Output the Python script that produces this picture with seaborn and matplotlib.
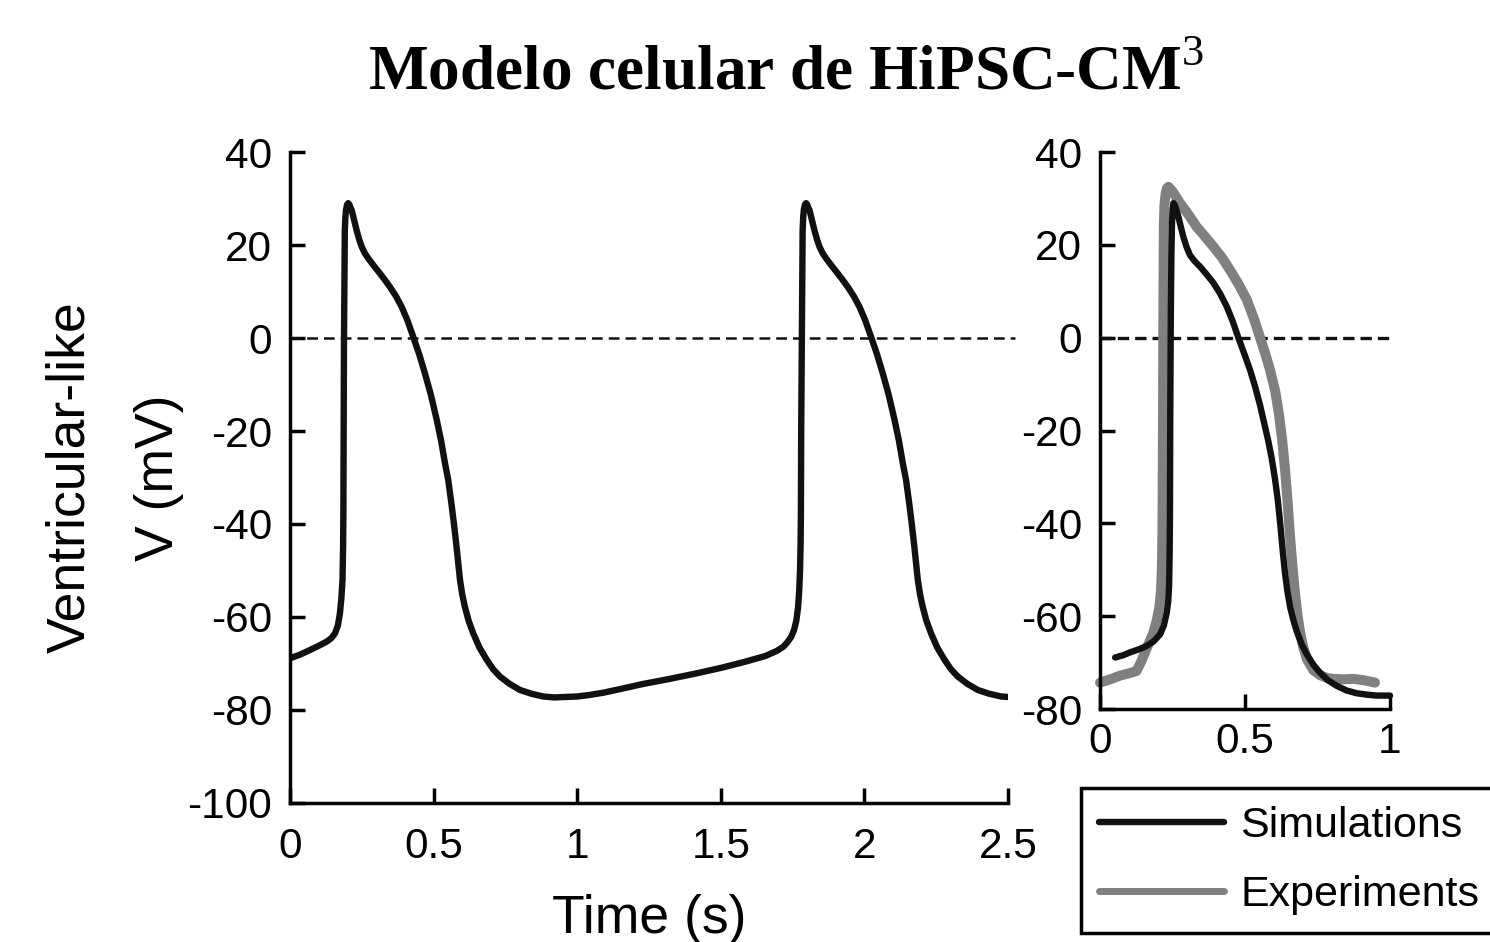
import matplotlib
matplotlib.use("Agg")
import matplotlib.pyplot as plt
import pandas as pd
import seaborn as sns
from matplotlib.lines import Line2D

# ---------------- data ----------------
left_time = [0.000, 0.035, 0.070, 0.100, 0.128, 0.145, 0.157, 0.167, 0.174, 0.179,
             0.183, 0.185, 0.186, 0.187, 0.188, 0.1895, 0.191, 0.193, 0.195, 0.199,
             0.203, 0.207, 0.211, 0.215, 0.223, 0.232, 0.241, 0.250, 0.261, 0.273,
             0.290, 0.308, 0.328, 0.348, 0.369, 0.389, 0.409, 0.429, 0.450, 0.470,
             0.491, 0.511, 0.526, 0.540, 0.551, 0.562, 0.571, 0.580, 0.586, 0.592,
             0.600, 0.609, 0.622, 0.638, 0.660, 0.685, 0.707, 0.731, 0.765, 0.801,
             0.840, 0.882, 0.920, 0.963, 1.000, 1.040, 1.090, 1.150, 1.230, 1.315,
             1.410, 1.504, 1.580, 1.655, 1.695, 1.718, 1.731, 1.745, 1.755, 1.763,
             1.769, 1.773, 1.776, 1.778, 1.779, 1.780, 1.782, 1.7835, 1.785, 1.787,
             1.789, 1.793, 1.797, 1.801, 1.805, 1.809, 1.817, 1.826, 1.835, 1.844,
             1.855, 1.867, 1.884, 1.902, 1.922, 1.942, 1.963, 1.983, 2.003, 2.023,
             2.044, 2.064, 2.085, 2.105, 2.120, 2.134, 2.145, 2.156, 2.165, 2.174,
             2.180, 2.186, 2.194, 2.203, 2.216, 2.232, 2.254, 2.279, 2.301, 2.325,
             2.359, 2.395, 2.434, 2.476, 2.500]
left_voltage = [-68.9, -68.1, -67.1, -66.2, -65.3, -64.5, -63.5, -61.8, -59.2, -56.0,
                -52.0, -45.0, -37.7, -20.0, -1.9, 12.0, 23.2, 26.0, 27.5, 28.7,
                29.0, 28.7, 28.0, 27.5, 25.5, 23.2, 21.2, 19.6, 18.2, 17.1,
                15.7, 14.3, 12.7, 11.0, 9.0, 6.7, 3.8, 0.3, -3.5, -7.6,
                -12.3, -17.6, -22.0, -27.0, -30.5, -35.5, -40.0, -44.9, -48.5, -52.0,
                -55.2, -57.8, -60.8, -63.5, -66.6, -69.2, -71.2, -72.8, -74.4, -75.7,
                -76.5, -77.1, -77.3, -77.2, -77.1, -76.8, -76.3, -75.5, -74.4, -73.4,
                -72.2, -70.9, -69.7, -68.4, -67.3, -66.4, -65.5, -64.3, -62.8, -60.8,
                -58.0, -54.5, -50.0, -44.0, -37.7, -20.0, -1.9, 12.0, 23.2, 26.0,
                27.5, 28.7, 29.0, 28.7, 28.0, 27.5, 25.5, 23.2, 21.2, 19.6,
                18.2, 17.1, 15.7, 14.3, 12.7, 11.0, 9.0, 6.7, 3.8, 0.3,
                -3.5, -7.6, -12.3, -17.6, -22.0, -27.0, -30.5, -35.5, -40.0, -44.9,
                -48.5, -52.0, -55.2, -57.8, -60.8, -63.5, -66.6, -69.2, -71.2, -72.8,
                -74.4, -75.7, -76.5, -77.1, -77.2]

right_sim_time = [0.052, 0.080, 0.103, 0.135, 0.161, 0.185, 0.207, 0.220, 0.230, 0.235,
                  0.238, 0.240, 0.241, 0.242, 0.244, 0.246, 0.248, 0.250, 0.253, 0.257,
                  0.262, 0.270, 0.278, 0.287, 0.298, 0.310, 0.326, 0.345, 0.368, 0.391,
                  0.414, 0.437, 0.457, 0.477, 0.497, 0.517, 0.535, 0.552, 0.566, 0.580,
                  0.592, 0.603, 0.613, 0.622, 0.630, 0.638, 0.646, 0.656, 0.667, 0.678,
                  0.695, 0.713, 0.735, 0.759, 0.786, 0.816, 0.850, 0.885, 0.920, 0.954,
                  1.000]
right_sim_voltage = [-68.9, -68.4, -67.8, -67.1, -66.4, -65.4, -63.9, -62.0, -59.2, -56.8,
                     -53.5, -46.0, -39.1, -17.6, 5.0, 18.0, 24.5, 27.5, 29.0, 28.6,
                     27.8, 26.1, 24.0, 21.8, 19.6, 17.8, 16.5, 15.3, 13.6, 11.8,
                     9.5, 6.7, 3.6, 0.0, -3.4, -6.9, -10.6, -14.6, -18.4, -22.2,
                     -26.0, -30.3, -35.0, -40.5, -46.0, -50.8, -54.6, -58.2, -60.9, -63.2,
                     -66.0, -68.2, -70.4, -72.2, -73.8, -75.0, -76.0, -76.6, -76.9, -77.1,
                     -77.1]

right_exp_time = [0.000, 0.035, 0.069, 0.100, 0.126, 0.140, 0.155, 0.170, 0.184, 0.196,
                  0.205, 0.210, 0.213, 0.215, 0.216, 0.217, 0.218, 0.219, 0.220, 0.222,
                  0.226, 0.231, 0.236, 0.250, 0.276, 0.305, 0.333, 0.362, 0.391, 0.420,
                  0.448, 0.478, 0.506, 0.530, 0.552, 0.570, 0.586, 0.604, 0.617, 0.628,
                  0.638, 0.647, 0.655, 0.664, 0.672, 0.681, 0.690, 0.700, 0.713, 0.735,
                  0.759, 0.782, 0.805, 0.840, 0.874, 0.910, 0.948]
right_exp_voltage = [-74.3, -73.6, -72.8, -72.3, -71.8, -70.0, -67.8, -65.6, -63.5, -60.8,
                     -57.8, -54.5, -49.9, -42.0, -32.0, -17.6, 0.0, 14.0, 24.0, 28.5,
                     31.0, 32.2, 32.5, 31.5, 29.0, 26.5, 23.9, 21.8, 19.6, 17.3,
                     14.6, 11.5, 8.2, 4.2, 0.0, -3.5, -6.9, -11.5, -16.5, -22.0,
                     -28.4, -35.5, -42.7, -49.5, -54.9, -59.8, -63.5, -66.5, -69.2, -71.6,
                     -72.7, -73.3, -73.5, -73.6, -73.5, -73.8, -74.3]

left_xticks = [0, 0.5, 1, 1.5, 2, 2.5]
left_xticklabels = ["0", "0.5", "1", "1.5", "2", "2.5"]
left_yticks = [-100, -80, -60, -40, -20, 0, 20, 40]
right_xticks = [0, 0.5, 1]
right_xticklabels = ["0", "0.5", "1"]
right_yticks = [-80, -60, -40, -20, 0, 20, 40]

zero_left_x = [0, 2.525]
zero_right_x = [0, 0.995]
zero_y = [0, 0]

series_names = ["Simulations", "Experiments"]
title_text = r"Modelo celular de HiPSC-CM$^{\mathrm{3}}$"
ylabel_text = "Ventricular-like\nV (mV)"
xlabel_text = "Time (s)"

# ---------------- style ----------------
sns.set_theme(style="white")
plt.rcParams["font.family"] = ["Liberation Sans", "DejaVu Sans"]
plt.rcParams["mathtext.fontset"] = "custom"
plt.rcParams["mathtext.rm"] = "Liberation Serif"
plt.rcParams["axes.unicode_minus"] = False

BLACK = "#111111"
GRAY = "#808080"
LW_BLACK = 4.6
LW_GRAY = 7.2
TICK_FS = 30.5
LABEL_FS = 38.5

fig = plt.figure(figsize=(14.9, 9.42), dpi=100)
axL = fig.add_axes([0.1946, 0.1476, 0.4819, 0.6910])
axR = fig.add_axes([0.7383, 0.2473, 0.1946, 0.5913])

# ---------------- left panel ----------------
df_left = pd.DataFrame({"t": left_time, "v": left_voltage})
sns.lineplot(data=df_left, x="t", y="v", sort=False, estimator=None,
             ax=axL, color=BLACK, linewidth=LW_BLACK)
axL.lines[-1].set_solid_joinstyle("round")
df_zl = pd.DataFrame({"t": zero_left_x, "v": zero_y})
sns.lineplot(data=df_zl, x="t", y="v", sort=False, estimator=None, ax=axL,
             color=BLACK, linewidth=1.8)
axL.lines[-1].set_dashes((4.3, 2.4))
axL.lines[-1].set_clip_on(False)

axL.set_xlim(0, 2.5)
axL.set_ylim(-100, 40)
axL.set_xticks(left_xticks)
axL.set_xticklabels(left_xticklabels)
axL.set_yticks(left_yticks)
axL.set_xlabel(xlabel_text, fontsize=LABEL_FS, labelpad=20, color="black")
axL.set_ylabel(ylabel_text, fontsize=LABEL_FS, linespacing=2.0, labelpad=2,
               color="black")

# ---------------- right panel ----------------
df_exp = pd.DataFrame({"t": right_exp_time, "v": right_exp_voltage})
df_sim = pd.DataFrame({"t": right_sim_time, "v": right_sim_voltage})
df_zr = pd.DataFrame({"t": zero_right_x, "v": zero_y})
sns.lineplot(data=df_zr, x="t", y="v", sort=False, estimator=None, ax=axR,
             color=BLACK, linewidth=2.4)
axR.lines[-1].set_dashes((3.4, 1.8))
sns.lineplot(data=df_exp, x="t", y="v", sort=False, estimator=None, ax=axR,
             color=GRAY, linewidth=LW_GRAY)
axR.lines[-1].set_solid_capstyle("round")
axR.lines[-1].set_solid_joinstyle("round")
axR.lines[-1].set_clip_on(False)
sns.lineplot(data=df_sim, x="t", y="v", sort=False, estimator=None, ax=axR,
             color=BLACK, linewidth=LW_BLACK)
axR.lines[-1].set_solid_joinstyle("round")
axR.lines[-1].set_clip_on(False)

axR.set_xlim(0, 1)
axR.set_ylim(-80, 40)
axR.set_xticks(right_xticks)
axR.set_xticklabels(right_xticklabels)
axR.set_yticks(right_yticks)
axR.set_xlabel("")
axR.set_ylabel("")

for ax, xpad in ((axL, 17), (axR, 9)):
    for side in ("top", "right"):
        ax.spines[side].set_visible(False)
    for side in ("left", "bottom"):
        ax.spines[side].set_linewidth(2.5)
        ax.spines[side].set_color("black")
    ax.tick_params(axis="both", direction="in", length=11, width=2.5,
                   labelsize=TICK_FS, colors="black", labelcolor="black")
    ax.tick_params(axis="y", pad=13, left=True)
    ax.tick_params(axis="x", pad=xpad, bottom=True)
    ax.set_facecolor("white")
    ax.grid(False)

# ---------------- legend ----------------
handles = [Line2D([], [], color=BLACK, linewidth=LW_BLACK),
           Line2D([], [], color=GRAY, linewidth=5.0)]
leg = fig.legend(handles=handles, labels=series_names, loc="lower left",
                 bbox_to_anchor=(1081 / 1490, 9 / 942), bbox_transform=fig.transFigure,
                 fontsize=31, handlelength=2.9, handletextpad=0.38, borderpad=0.42,
                 labelspacing=0.68, frameon=True, fancybox=False, borderaxespad=0)
for txt in leg.get_texts():
    txt.set_color("black")
frame = leg.get_frame()
frame.set_edgecolor("black")
frame.set_linewidth(2.5)
frame.set_alpha(1)

# ---------------- title ----------------
fig.text(0.5275, 0.921, title_text, ha="center", va="center", fontsize=45.5,
         fontweight="bold", family="Liberation Serif", color="black")

fig.savefig("out.png", dpi=100, facecolor="white")
